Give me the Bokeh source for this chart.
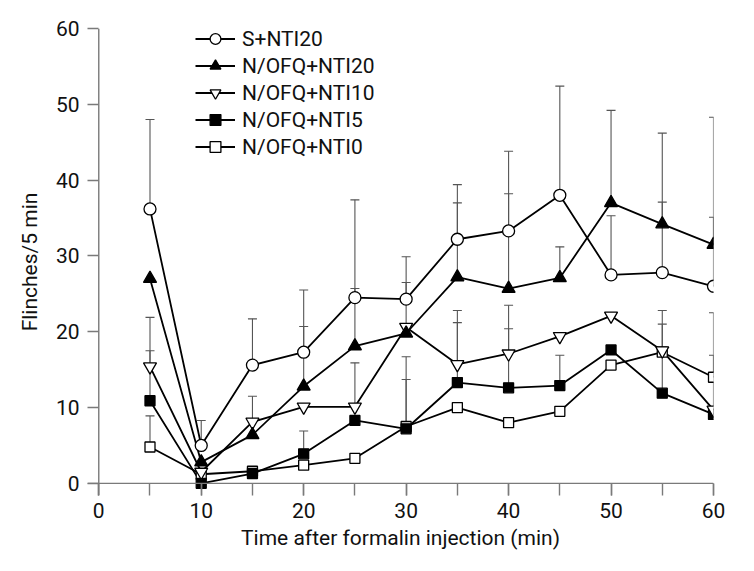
from bokeh.plotting import figure
from bokeh.models import Range1d, Legend, LegendItem, SingleIntervalTicker, Span
from bokeh.embed import file_html
from bokeh.resources import INLINE

# ---------------- data ----------------
time = [5, 10, 15, 20, 25, 30, 35, 40, 45, 50, 55, 60]

s_nti20 = [36.2, 5.0, 15.6, 17.3, 24.5, 24.3, 32.2, 33.3, 38.0, 27.5, 27.8, 26.0]
s_nti20_upper = [48.0, 8.3, 21.7, 25.5, 37.4, 29.9, 39.4, 43.8, 52.4, 35.3, 37.1, 35.1]

nofq_nti20 = [27.0, 2.8, 6.4, 12.8, 18.1, 19.8, 27.2, 25.7, 27.1, 37.0, 34.2, 31.5]
nofq_nti20_upper = [None, None, None, 20.7, 25.7, 26.5, 37.0, 38.2, 31.2, 49.2, 46.2, 48.3]

nofq_nti10 = [15.4, 1.5, 8.1, 10.1, 10.1, 20.6, 15.7, 17.1, 19.4, 22.1, 17.5, 9.7]
nofq_nti10_upper = [21.9, None, 11.5, None, 15.9, None, 22.8, 23.5, None, None, None, None]

nofq_nti5 = [10.9, 0.0, 1.3, 3.9, 8.3, 7.2, 13.3, 12.6, 12.9, 17.6, 11.9, 9.1]
nofq_nti5_upper = [17.5, None, None, 6.9, None, 16.7, 21.2, 20.4, 16.9, None, 21.0, 16.9]

nofq_nti0 = [4.8, 1.2, 1.6, 2.4, 3.3, 7.5, 10.0, 8.0, 9.5, 15.6, 17.3, 14.0]
nofq_nti0_upper = [8.9, None, None, None, None, 13.7, None, None, None, None, 22.8, 22.5]

labels = ["S+NTI20", "N/OFQ+NTI20", "N/OFQ+NTI10", "N/OFQ+NTI5", "N/OFQ+NTI0"]
x_tick_interval = 10
y_tick_interval = 10

# ---------------- style ----------------
FONT = "Roboto"
FS = "21px"
TXT = "#111111"
AX = "#7a7a7a"
ERR = "#555555"

series = [
    (labels[0], s_nti20, s_nti20_upper, "circle", "white", 12),
    (labels[1], nofq_nti20, nofq_nti20_upper, "triangle", "black", 13),
    (labels[2], nofq_nti10, nofq_nti10_upper, "inverted_triangle", "white", 13),
    (labels[3], nofq_nti5, nofq_nti5_upper, "square", "black", 10),
    (labels[4], nofq_nti0, nofq_nti0_upper, "square", "white", 10),
]

p = figure(width=754, height=571,
           x_range=Range1d(-1.1, 60), y_range=Range1d(-1.6, 60),
           output_backend="svg", toolbar_location=None,
           min_border_left=87, min_border_right=41,
           min_border_top=28, min_border_bottom=76)
p.xgrid.visible = False
p.ygrid.visible = False
p.outline_line_color = None
p.background_fill_color = "white"
p.border_fill_color = "white"

# axis lines through the origin
p.add_layout(Span(location=0, dimension="width", line_color=AX, line_width=1.4))
p.add_layout(Span(location=0, dimension="height", line_color=AX, line_width=1.4))

# error bars (upward only)
for name, ys, ups, marker, fill, size in series:
    xs0, y0, y1 = [], [], []
    for t, m, u in zip(time, ys, ups):
        if u is not None:
            xs0.append(t); y0.append(m); y1.append(u)
    p.segment(x0=xs0, y0=y0, x1=xs0, y1=y1, line_color=ERR, line_width=1.1)
    p.scatter(x=xs0, y=y1, marker="dash", size=9, line_color=ERR, line_width=1.1)

line_r = {}
for name, ys, ups, marker, fill, size in series:
    line_r[name] = p.line(time, ys, line_color="black", line_width=1.8)

marker_r = {}
for name, ys, ups, marker, fill, size in reversed(series):
    marker_r[name] = p.scatter(time, ys, marker=marker, size=size,
                               fill_color=fill, line_color="black", line_width=1.3)

# axes (lines drawn by the spans; ticks drawn inward from frame edge to the origin lines)
xa = p.xaxis[0]
xa.ticker = SingleIntervalTicker(interval=x_tick_interval, num_minor_ticks=2)
ya = p.yaxis[0]
ya.ticker = SingleIntervalTicker(interval=y_tick_interval, num_minor_ticks=0)

for ax in (xa, ya):
    ax.axis_line_color = None
    ax.major_tick_line_color = AX
    ax.minor_tick_line_color = AX
    ax.major_tick_line_width = 1.4
    ax.minor_tick_line_width = 1.4
    ax.major_tick_out = 0
    ax.minor_tick_out = 0
    ax.major_label_text_font = FONT
    ax.major_label_text_font_size = FS
    ax.major_label_text_color = TXT
    ax.axis_label_text_font = FONT
    ax.axis_label_text_font_size = FS
    ax.axis_label_text_font_style = "normal"
    ax.axis_label_text_color = TXT

xa.major_tick_in = 12
xa.minor_tick_in = 12
xa.major_label_standoff = 7
xa.axis_label = "Time after formalin injection (min)"
xa.axis_label_standoff = 5

ya.major_tick_in = 11
ya.minor_tick_in = 0
ya.major_label_standoff = 8
ya.axis_label = "Flinches/5 min"
ya.axis_label_standoff = 11

legend = Legend(
    items=[LegendItem(label=n, renderers=[line_r[n], marker_r[n]]) for n in labels],
    location=(108, 335), orientation="vertical",
    padding=0, margin=0, spacing=0,
    glyph_width=40, glyph_height=27, label_height=27, label_standoff=7,
    label_text_font=FONT, label_text_font_size=FS, label_text_color=TXT,
    background_fill_alpha=0, border_line_alpha=0,
)
p.add_layout(legend)

open("out.html", "w").write(file_html(p, INLINE))
